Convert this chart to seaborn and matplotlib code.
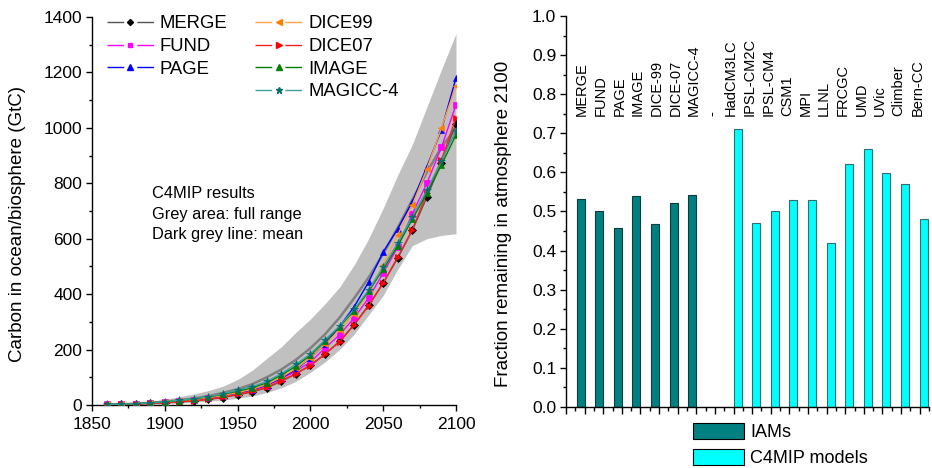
import numpy as np
import pandas as pd
import matplotlib
matplotlib.use("Agg")
import matplotlib.pyplot as plt
import seaborn as sns
from matplotlib.lines import Line2D
from matplotlib.patches import Patch
from matplotlib.ticker import MultipleLocator
from matplotlib.legend_handler import HandlerTuple

# ---------------- data: left panel ----------------
years = list(range(1860, 2101, 10))

merge = [1, 2, 4, 6, 8, 11, 15, 20, 27, 37, 47, 62, 85, 112, 145, 183, 230, 290, 360, 440, 530, 630, 750, 875, 1015]
fund = [2, 3, 5, 7, 10, 13, 18, 24, 31, 42, 53, 70, 95, 122, 155, 205, 253, 314, 386, 476, 570, 690, 800, 930, 1083]
page = [2, 3, 5, 7, 10, 14, 19, 25, 33, 44, 55, 72, 97, 128, 170, 220, 283, 354, 444, 552, 636, 733, 860, 993, 1180]
dice99 = [2, 3, 5, 7, 10, 14, 19, 26, 34, 45, 57, 74, 100, 132, 170, 220, 270, 330, 410, 505, 614, 722, 852, 1000, 1152]
dice07 = [1, 2, 4, 6, 8, 11, 15, 21, 28, 38, 49, 64, 88, 113, 141, 184, 227, 289, 357, 440, 534, 632, 766, 884, 1036]
image = [2, 3, 5, 8, 11, 16, 22, 29, 38, 50, 62, 80, 108, 140, 180, 230, 282, 340, 410, 490, 575, 670, 765, 866, 975]
magicc = [2, 3, 5, 8, 12, 17, 23, 30, 40, 54, 66, 85, 113, 147, 184, 235, 285, 345, 415, 498, 585, 680, 775, 880, 990]

c4mip_upper = [3, 5, 8, 13, 20, 30, 40, 52, 68, 92, 125, 168, 210, 262, 310, 365, 425, 505, 600, 710, 830, 940, 1075, 1210, 1340]
c4mip_mean = [1, 3, 5, 8, 12, 17, 24, 32, 44, 57, 75, 100, 128, 163, 205, 255, 315, 385, 460, 545, 640, 740, 840, 930, 1000]
c4mip_lower = [0, 1, 2, 3, 5, 7, 10, 14, 18, 24, 32, 45, 62, 85, 118, 155, 200, 255, 325, 395, 490, 575, 600, 612, 618]

series_names = ["MERGE", "FUND", "PAGE", "DICE99", "DICE07", "IMAGE", "MAGICC-4"]
series_values = [merge, fund, page, dice99, dice07, image, magicc]
line_colors = ["#555555", "#FF00FF", "#0000FF", "#FFA040", "#FF2020", "#008000", "#40A0A0"]
marker_colors = ["#000000", "#FF00FF", "#0000FF", "#FF8000", "#FF0000", "#008000", "#007070"]
markers = ["D", "s", "^", "<", ">", "^", "*"]
marker_sizes = [3.6, 4.0, 4.4, 4.4, 4.4, 4.4, 5.6]

# ---------------- data: right panel ----------------
iam_models = ["MERGE", "FUND", "PAGE", "IMAGE", "DICE-99", "DICE-07", "MAGICC-4"]
iam_fraction = [0.531, 0.501, 0.457, 0.540, 0.468, 0.523, 0.543]
separator_label = ["-"]
c4mip_models = ["HadCM3LC", "IPSL-CM2C", "IPSL-CM4", "CSM1", "MPI", "LLNL",
                "FRCGC", "UMD", "UVic", "Climber", "Bern-CC"]
c4mip_fraction = [0.710, 0.470, 0.501, 0.529, 0.529, 0.420, 0.621, 0.659, 0.599, 0.570, 0.481]

# ---------------- style ----------------
sns.set_theme(style="ticks")
plt.rcParams["font.family"] = ["Liberation Sans", "DejaVu Sans"]
plt.rcParams["lines.scale_dashes"] = False
plt.rcParams["axes.linewidth"] = 1.0
for k in ["xtick.major.width", "ytick.major.width", "xtick.minor.width", "ytick.minor.width"]:
    plt.rcParams[k] = 1.0
plt.rcParams["xtick.color"] = "black"
plt.rcParams["ytick.color"] = "black"
plt.rcParams["axes.edgecolor"] = "black"
plt.rcParams["text.color"] = "black"
plt.rcParams["axes.labelcolor"] = "black"

fig = plt.figure(figsize=(9.32, 4.68), dpi=100)
ax1 = fig.add_axes([92 / 932, 1 - 405 / 468, (456 - 92) / 932, (405 - 17) / 468])
ax2 = fig.add_axes([566 / 932, 1 - 407 / 468, (929 - 566) / 932, (407 - 16) / 468])

# ---------------- left panel ----------------
ax1.fill_between(years, c4mip_lower, c4mip_upper, color="#C0C0C0", lw=0, zorder=1)
sns.lineplot(x=years, y=c4mip_mean, ax=ax1, color="#808080", linewidth=1.8, zorder=2)

for name, vals, lc, mc, m, ms in zip(series_names, series_values, line_colors,
                                      marker_colors, markers, marker_sizes):
    sns.lineplot(x=years, y=vals, ax=ax1, color=lc, linewidth=1.0, marker=m,
                 markersize=ms, markerfacecolor=mc, markeredgecolor=mc,
                 markeredgewidth=0.5, zorder=3)

ax1.set_xlim(1850, 2100)
ax1.set_ylim(0, 1400)
ax1.xaxis.set_major_locator(MultipleLocator(50))
ax1.xaxis.set_minor_locator(MultipleLocator(25))
ax1.yaxis.set_major_locator(MultipleLocator(200))
ax1.yaxis.set_minor_locator(MultipleLocator(100))
ax1.tick_params(which="major", direction="out", length=4.5, labelsize=12.5, pad=2.5)
ax1.tick_params(which="minor", direction="out", length=2.5)
ax1.tick_params(axis="x", which="major", pad=4)
sns.despine(ax=ax1)
ax1.set_ylabel("Carbon in ocean/biosphere (GtC)", fontsize=13.5)
ax1.yaxis.set_label_coords(-0.18, 0.466)

handles = []
labels = []
for i, (name, lc, mc, m, ms) in enumerate(zip(series_names, line_colors, marker_colors,
                                             markers, marker_sizes)):
    ln = Line2D([], [], color=lc, linewidth=1.0, linestyle=(0, (12.0, 9.5)))
    mk = Line2D([], [], color="none", marker=m, markersize=ms * 0.85, markerfacecolor=mc,
                markeredgecolor=mc, linestyle="none")
    handles.append((ln, mk))
    labels.append(name)
    if i == 2:
        handles.append(Line2D([], [], color="none"))
        labels.append("")

leg = ax1.legend(handles, labels, loc="upper left", bbox_to_anchor=(0.04, 1.004),
                 ncol=2, frameon=False, fontsize=13.3, handlelength=2.55,
                 handletextpad=0.3, columnspacing=1.55, labelspacing=0.3,
                 borderpad=0, borderaxespad=0, numpoints=1,
                 handler_map={tuple: HandlerTuple(ndivide=1)})

ax1.text(0.165, 0.492, "C4MIP results\nGrey area: full range\nDark grey line: mean",
         transform=ax1.transAxes, fontsize=11.8, ha="left", va="center",
         linespacing=1.45)

# ---------------- right panel ----------------
iam_pos = [i + 1 for i in range(len(iam_models))]
c4_start = len(iam_models) + len(separator_label) + 1
c4_pos = [c4_start + i for i in range(len(c4mip_models))]
ax2.bar(iam_pos, iam_fraction, width=-0.43, align="edge", color="#008080",
        edgecolor="#0B3B3B", linewidth=0.8, label="IAMs", zorder=2)
ax2.bar(c4_pos, c4mip_fraction, width=0.43, align="edge", color="#00FFFF",
        edgecolor="#2E6E6E", linewidth=0.8, label="C4MIP models", zorder=2)

all_labels = iam_models + separator_label + c4mip_models
for i, name in enumerate(all_labels):
    ax2.text(i + 1 - 0.13, 0.745, name, rotation=90, ha="center", va="bottom",
             fontsize=10.5)

ax2.set_xlim(0, 19.5)
ax2.set_ylim(0, 1.0)
ax2.xaxis.set_major_locator(MultipleLocator(1))
ax2.xaxis.set_minor_locator(MultipleLocator(0.5))
ax2.yaxis.set_major_locator(MultipleLocator(0.1))
ax2.yaxis.set_minor_locator(MultipleLocator(0.05))
ax2.yaxis.set_major_formatter(matplotlib.ticker.FormatStrFormatter("%.1f"))
ax2.tick_params(axis="x", which="major", direction="out", length=5, labelbottom=False)
ax2.tick_params(axis="x", which="minor", direction="out", length=3)
ax2.tick_params(axis="y", which="major", direction="out", length=4.5, labelsize=12.5, pad=2.5)
ax2.tick_params(axis="y", which="minor", direction="out", length=2.5)
sns.despine(ax=ax2)
ax2.set_ylabel("Fraction remaining in atmosphere 2100", fontsize=13.5)
ax2.yaxis.set_label_coords(-0.148, 0.469)

bar_handles = [Patch(facecolor="#008080", edgecolor="black", linewidth=0.8),
               Patch(facecolor="#00FFFF", edgecolor="black", linewidth=0.8)]
fig.legend(bar_handles, ["IAMs", "C4MIP models"], loc="upper left",
           bbox_to_anchor=(693 / 932, 1 - 423 / 468), frameon=False, fontsize=13,
           handlelength=2.8, handleheight=0.95, handletextpad=0.35,
           labelspacing=0.45, borderpad=0, borderaxespad=0)

fig.savefig("out.png", dpi=100)
